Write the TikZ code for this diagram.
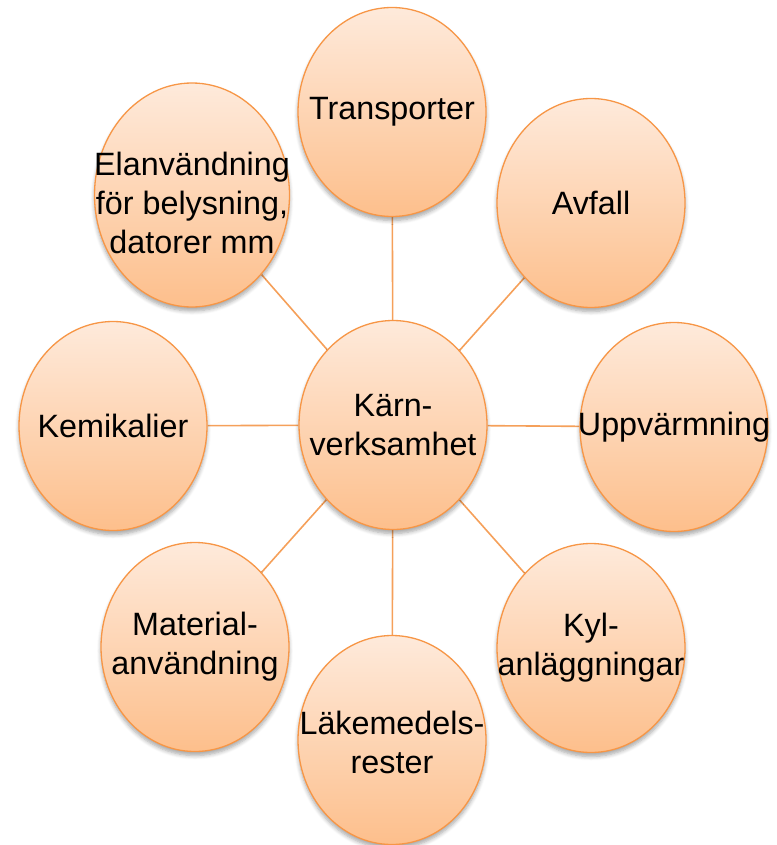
\documentclass[tikz,border=0pt]{standalone}
\usepackage{fontspec}
\setmainfont{Liberation Sans}
\usetikzlibrary{shapes.geometric,shadows.blur,backgrounds}
\definecolor{bord}{HTML}{F79646}
\definecolor{topc}{HTML}{FEEADB}
\definecolor{botc}{HTML}{FDBF8C}
\definecolor{linec}{HTML}{F5A05A}
\tikzset{
  bubble/.style={ellipse, draw=bord, line width=1.3pt, top color=topc, bottom color=botc,
    minimum width=188pt, minimum height=209pt, inner sep=0pt,
    blur shadow={shadow xshift=0pt, shadow yshift=-4pt, shadow blur steps=6, shadow opacity=35, shadow blur radius=4pt}},
  btext/.style={align=center, inner sep=0pt, font=\fontsize{32.3pt}{39pt}\selectfont},
  link/.style={draw=linec, line width=1.6pt}
}
\begin{document}
\begin{tikzpicture}[x=1pt,y=-1pt]
\useasboundingbox (0,0) rectangle (776,845);
\node[bubble] (c) at (393,425) {};
\node[bubble] (t) at (392,112) {};
\node[bubble] (a) at (591,203) {};
\node[bubble] (u) at (674,427) {};
\node[bubble] (k) at (591,648) {};
\node[bubble] (l) at (392,740) {};
\node[bubble] (m) at (195,647) {};
\node[bubble] (ke) at (113,426) {};
\node[bubble, minimum width=195pt, minimum height=224pt] (e) at (192,195) {};
\node[btext] (ct) at (c.center) {Kärn-\\verksamhet};
\node[btext] (tt) at (t.center) {Transporter};
\node[btext] (at) at (a.center) {Avfall};
\node[btext] (ut) at (u.center) {Uppvärmning};
\node[btext] (kt) at (k.center) {Kyl-\\anläggningar};
\node[btext] (lt) at ([yshift=-2pt]l.center) {Läkemedels-\\rester};
\node[btext] (mt) at (m.center) {Material-\\användning};
\node[btext] (ket) at (ke.center) {Kemikalier};
\node[btext] (et) at ([yshift=-8pt]e.center) {Elanvändning\\för belysning,\\datorer mm};
\begin{scope}[on background layer]
\foreach \n in {t,a,u,k,l,m,ke,e} \draw[link] (c) -- (\n);
\end{scope}
\end{tikzpicture}
\end{document}
